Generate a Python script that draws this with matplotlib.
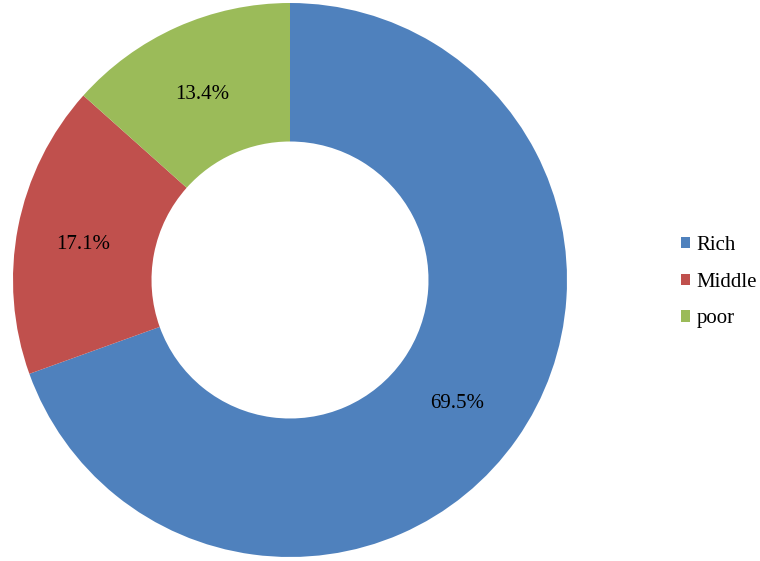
import matplotlib.pyplot as plt

labels = ['Rich', 'Middle', 'poor']
shares = [69.5, 17.1, 13.4]
colors = ['#4F81BD', '#C0504D', '#9BBB59']

plt.rcParams['font.family'] = ['Liberation Serif', 'DejaVu Serif']

fig = plt.figure(figsize=(7.6, 5.61), dpi=100)
# pie centre about (290, 280) px, radius 277 px
ax = fig.add_axes([13 / 760, 4 / 561, 554 / 760, 554 / 561])

wedges, texts, autotexts = ax.pie(
    shares, colors=colors, startangle=90, counterclock=False,
    autopct='%1.1f%%', pctdistance=0.75, radius=1,
    wedgeprops=dict(width=0.5, linewidth=0),
    textprops=dict(fontsize=15, color='black'))
# labels sit a few px lower in the original
for t in autotexts:
    x, y = t.get_position()
    t.set_position((x - 0.01, y - 0.015))
ax.set_xlim(-1, 1)
ax.set_ylim(-1, 1)
ax.set_aspect('equal')

fig.legend(wedges, labels, loc='center left', bbox_to_anchor=(0.871, 0.497),
           frameon=False, fontsize=15, handlelength=0.45, handleheight=0.45,
           handletextpad=0.3, labelspacing=0.85)

fig.savefig('out.png', dpi=100)
